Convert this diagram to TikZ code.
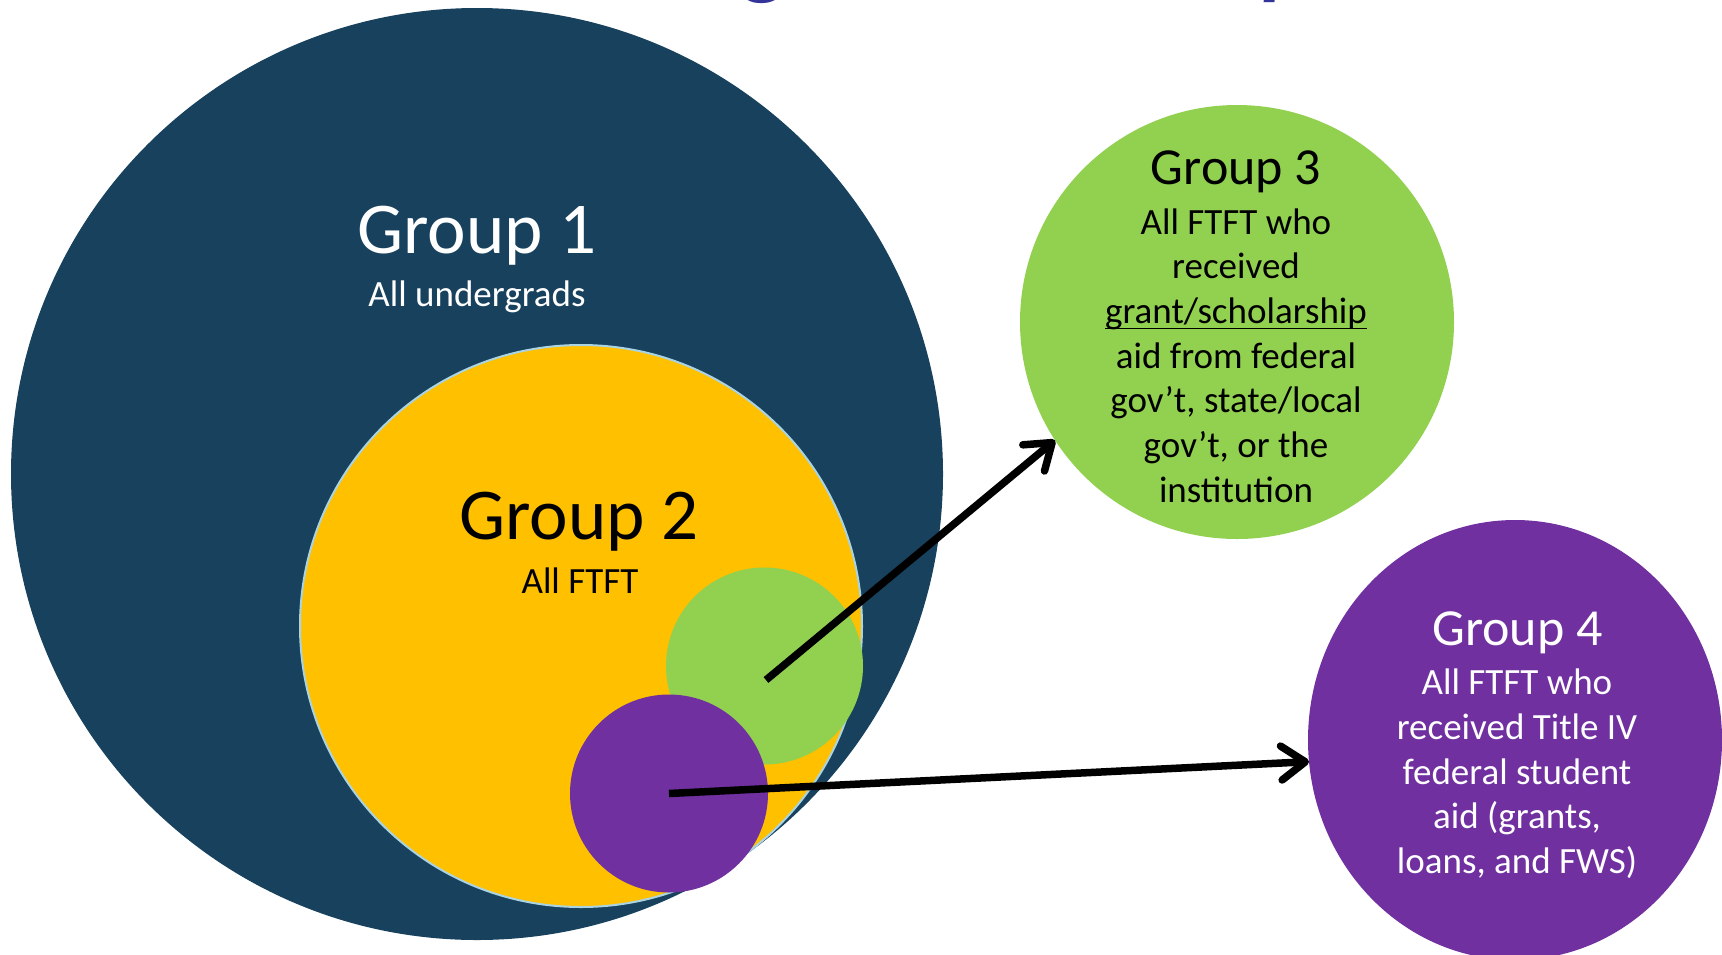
\documentclass[tikz,border=0pt]{standalone}
\usepackage{fontspec}
\setmainfont{Carlito}
\usetikzlibrary{arrows.meta,shapes.geometric}
\definecolor{gone}{RGB}{23,65,93}
\definecolor{gtwo}{RGB}{255,192,0}
\definecolor{gthree}{RGB}{146,208,80}
\definecolor{gfour}{RGB}{112,48,160}
\definecolor{ringblue}{RGB}{170,212,226}
\definecolor{titleblue}{RGB}{51,51,153}
\newcommand\ulword[1]{\setbox0\hbox{#1}\rlap{\rule[-6pt]{\wd0}{1.8pt}}\box0}
\begin{document}
\begin{tikzpicture}[x=1pt,y=-1pt,
  disc/.style={circle, inner sep=0pt, outer sep=0pt, draw=none},
  bigtitle/.style={font=\fontsize{73}{88}\selectfont, anchor=base, inner sep=0pt},
  midtitle/.style={font=\fontsize{52}{62}\selectfont, anchor=base, inner sep=0pt},
  body/.style={font=\fontsize{37}{44.7}\selectfont, anchor=base, inner sep=0pt},
  frag/.style={font=\fontsize{90}{100}\selectfont\bfseries\itshape, text=titleblue, anchor=base, inner sep=0pt},
  link/.style={line width=7.5pt, draw=black, -{Straight Barb[length=24pt,width=34pt,round]}}
]
\useasboundingbox (0,0) rectangle (1722,954);
\begin{scope}
\clip (0,0) rectangle (1722,954);
% title fragments cut by the top edge
\node[frag] (tg) at (768,-12) {g};
\node[frag] (tp) at (1287,-12) {p};
% circles
\node[disc, fill=gone, minimum size=932pt] (g1) at (477,474) {};
\node[disc, fill=gtwo, draw=ringblue, line width=2pt, minimum size=562pt] (g2) at (581,626) {};
\node[disc, fill=gthree, minimum size=197pt] (g3s) at (764.5,666) {};
\node[disc, fill=gfour, minimum size=198pt] (g4s) at (669,793.5) {};
\node[disc, fill=gthree, minimum size=434pt] (g3) at (1237,322) {};
\node[ellipse, fill=gfour, inner sep=0pt, outer sep=0pt, minimum width=414pt, minimum height=440pt] (g4) at (1515,740) {};
\end{scope}
% labels
\node[bigtitle, text=white] (t1) at (477,253) {Group 1};
\node[body, text=white] (s1) at (477,306) {All undergrads};
\node[bigtitle, text=black] (t2) at (579,539) {Group 2};
\node[body, text=black] (s2) at (580,593.5) {All FTFT};
\node[midtitle, text=black] (t3) at (1236,184) {Group 3};
\node[body, text=black] (s3) at (1236,234) {\begin{tabular}[t]{@{}c@{}}All FTFT who\\received\\\ulword{grant/scholarship}\\aid from federal\\gov’t, state/local\\gov’t, or the\\institution\end{tabular}};
\node[midtitle, text=white] (t4) at (1517.5,645.5) {Group 4};
\node[body, text=white] (s4) at (1517,694.7) {\begin{tabular}[t]{@{}c@{}}All FTFT who\\received Title IV\\federal student\\aid (grants,\\loans, and FWS)\end{tabular}};
% connectors
\coordinate (a1s) at (766,680);
\draw[link] (a1s) -- (g3.213);
\draw[link] (g4s.center) -- (g4.186);
\end{tikzpicture}
\end{document}
